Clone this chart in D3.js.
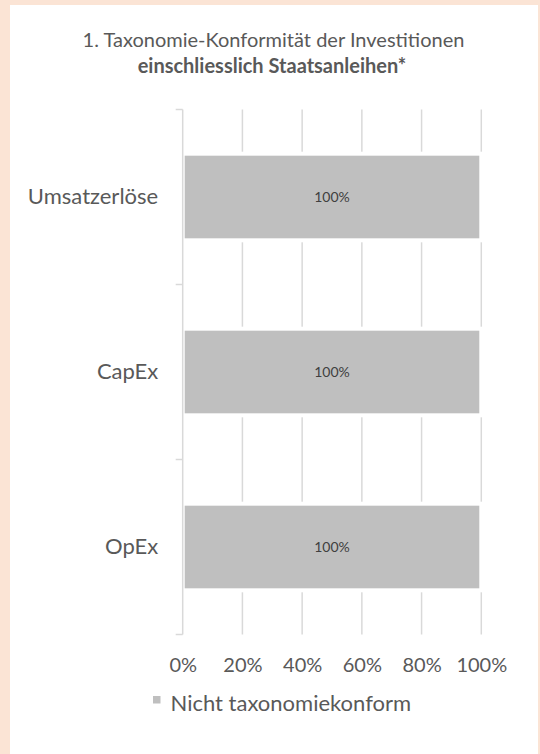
<!DOCTYPE html>
<html>
<head>
<meta charset="utf-8">
<script src="https://cdn.jsdelivr.net/npm/d3@7"></script>
<style>
  html, body { margin: 0; padding: 0; background: #fbe4d5; }
  #chart { width: 540px; height: 754px; }
  text { font-family: Lato, "Open Sans", sans-serif; fill: #595959; }
</style>
</head>
<body>
<div id="chart"></div>
<script>
// data
const categories = ["Umsatzerlöse", "CapEx", "OpEx"];
const values = [1, 1, 1];            // Nicht taxonomiekonform share
const valueLabels = ["100%", "100%", "100%"];
const xTicks = [0, 0.2, 0.4, 0.6, 0.8, 1];
const seriesName = "Nicht taxonomiekonform";
const titleLine1 = "1. Taxonomie-Konformität der Investitionen";
const titleLine2 = "einschliesslich Staatsanleihen*";

const W = 540, H = 754;
const svg = d3.select("#chart").append("svg")
    .attr("width", W)
    .attr("height", H);

// white panel on peach background
svg.append("rect")
    .attr("x", 10).attr("y", 5)
    .attr("width", 528).attr("height", H - 5)
    .attr("fill", "#ffffff");

// title
svg.append("text")
    .attr("x", 273.5).attr("y", 47)
    .attr("text-anchor", "middle")
    .style("font-size", "20px")
    .text(titleLine1);
svg.append("text")
    .attr("x", 272).attr("y", 73)
    .attr("text-anchor", "middle")
    .style("font-size", "20px")
    .style("font-weight", "bold")
    .text(titleLine2);

const xScale = d3.scaleLinear()
    .domain([0, 1])
    .range([182.7, 481.3]);

const yScale = d3.scaleBand()
    .domain(categories)
    .range([109.5, 634.5])
    .paddingInner(0.505)
    .paddingOuter(0.2525);

const plotTop = yScale.range()[0], plotBottom = yScale.range()[1];

// vertical gridlines
svg.append("g")
    .selectAll("line")
    .data(xTicks.slice(1))
    .enter()
    .append("line")
    .attr("x1", d => xScale(d)).attr("x2", d => xScale(d))
    .attr("y1", plotTop).attr("y2", plotBottom)
    .attr("stroke", "#d9d9d9")
    .attr("stroke-width", 1.5);

// bars with white outline that breaks the gridlines
svg.append("g")
    .selectAll("rect")
    .data(values)
    .enter()
    .append("rect")
    .attr("x", xScale(0))
    .attr("y", (d, i) => yScale(categories[i]))
    .attr("width", d => xScale(d) - xScale(0))
    .attr("height", yScale.bandwidth())
    .attr("fill", "#bfbfbf")
    .attr("stroke", "#ffffff")
    .attr("stroke-width", 4);

// category axis
const yAxis = svg.append("g")
    .attr("transform", "translate(" + xScale(0) + ",0)")
    .call(d3.axisLeft(yScale).tickSize(0).tickPadding(24.5));
yAxis.select(".domain").remove();
yAxis.selectAll("text")
    .style("font-size", "22px")
    .attr("fill", "#595959")
    .style("font-family", "Lato, 'Open Sans', sans-serif");

// axis line and boundary ticks
const bounds = [plotTop].concat(categories.map(c => yScale(c) + yScale.bandwidth() + yScale.step() * yScale.paddingInner() / 2));
svg.append("line")
    .attr("x1", xScale(0)).attr("x2", xScale(0))
    .attr("y1", plotTop).attr("y2", plotBottom)
    .attr("stroke", "#d9d9d9")
    .attr("stroke-width", 1.5);
svg.append("g")
    .selectAll("line")
    .data(bounds)
    .enter()
    .append("line")
    .attr("x1", xScale(0) - 7).attr("x2", xScale(0))
    .attr("y1", d => d).attr("y2", d => d)
    .attr("stroke", "#d9d9d9")
    .attr("stroke-width", 1.5);

// value axis labels
const xAxis = svg.append("g")
    .attr("transform", "translate(0," + plotBottom + ")")
    .call(d3.axisBottom(xScale).tickValues(xTicks).tickFormat(d3.format(".0%")).tickSize(0).tickPadding(23));
xAxis.select(".domain").remove();
xAxis.selectAll("text")
    .style("font-size", "20px")
    .attr("fill", "#595959")
    .style("font-family", "Lato, 'Open Sans', sans-serif");

// data labels
svg.append("g")
    .selectAll("text")
    .data(values)
    .enter()
    .append("text")
    .attr("x", d => (xScale(0) + xScale(d)) / 2)
    .attr("y", (d, i) => yScale(categories[i]) + yScale.bandwidth() / 2)
    .attr("dy", "0.35em")
    .attr("text-anchor", "middle")
    .style("font-size", "14px")
    .style("fill", "#404040")
    .text((d, i) => valueLabels[i]);

// legend
const legend = svg.append("g").attr("transform", "translate(153,696)");
legend.append("rect")
    .attr("width", 7.5).attr("height", 7.5)
    .attr("fill", "#bfbfbf");
legend.append("text")
    .attr("x", 17.5).attr("y", 15)
    .style("font-size", "22px")
    .text(seriesName);
</script>
</body>
</html>
